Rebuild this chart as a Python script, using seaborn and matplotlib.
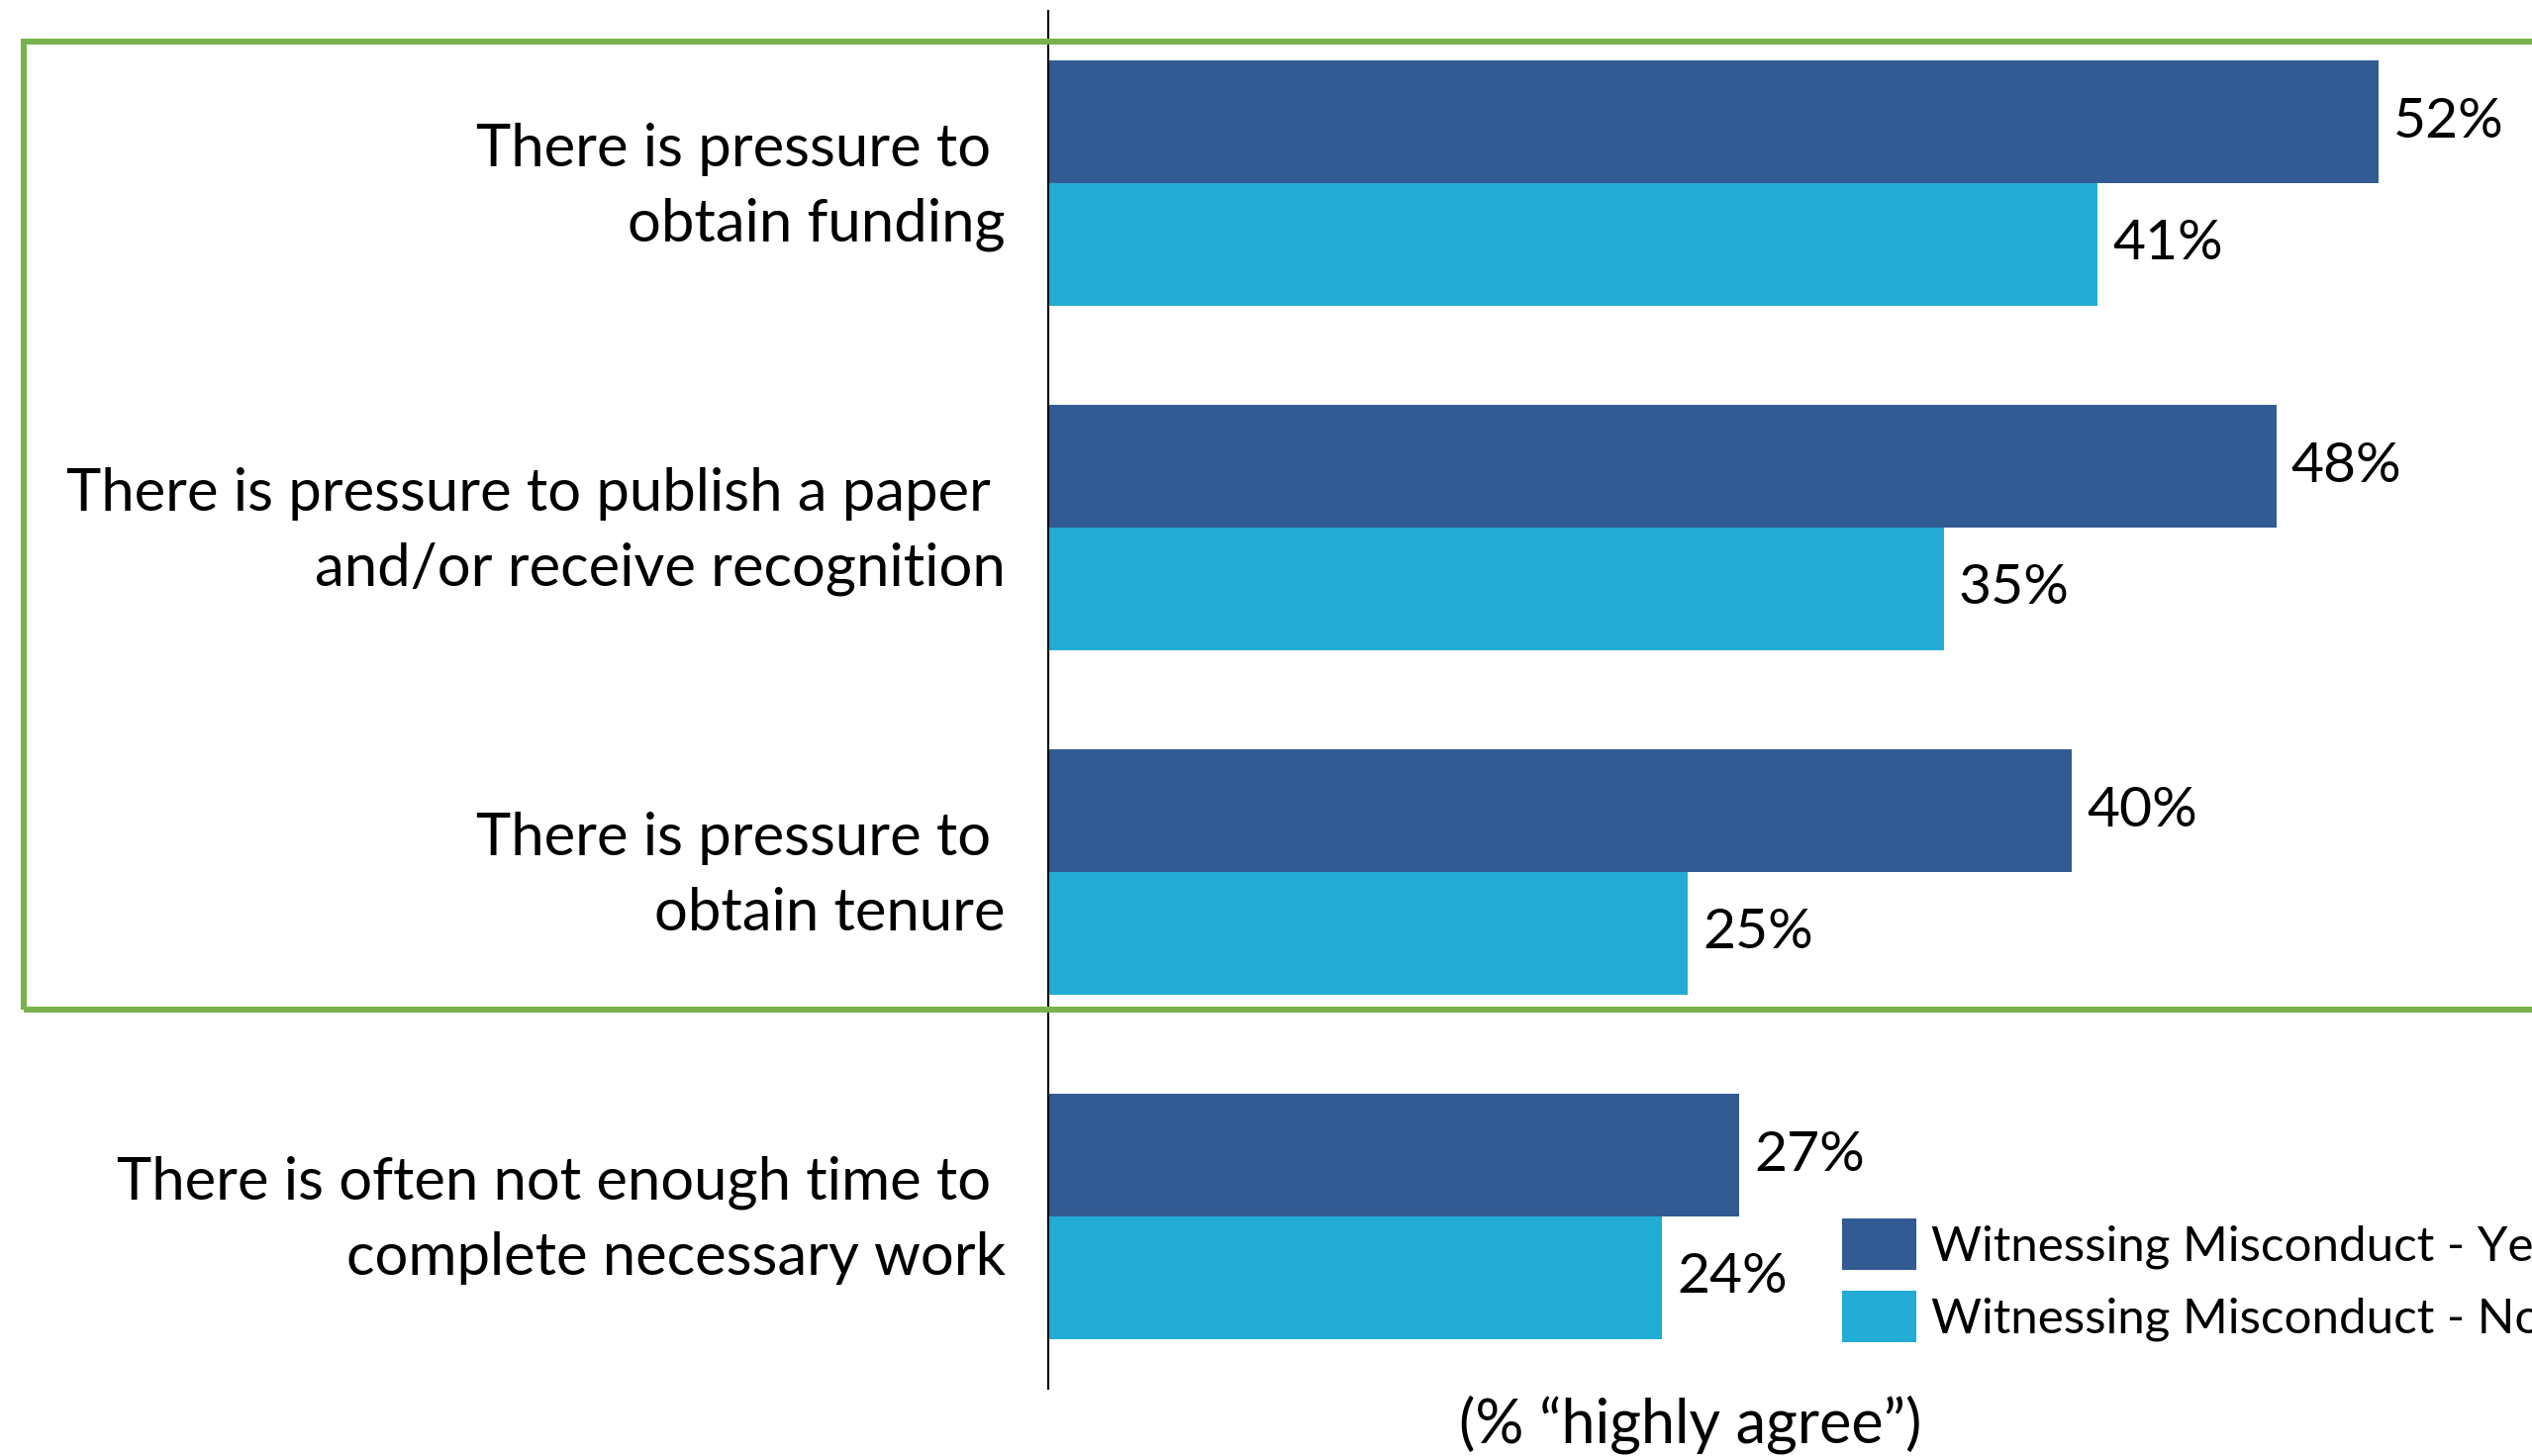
import matplotlib
matplotlib.use("Agg")
import matplotlib.pyplot as plt
import matplotlib.patches as mpatches
import matplotlib.transforms as mtransforms
import seaborn as sns
import pandas as pd

# Survey statements and the share of respondents who "highly agree"
statements = [
    "There is pressure to \nobtain funding",
    "There is pressure to publish a paper \nand/or receive recognition",
    "There is pressure to \nobtain tenure",
    "There is often not enough time to \ncomplete necessary work",
]
groups = ["Witnessing Misconduct - Yes", "Witnessing Misconduct - No"]
pct_yes = [52, 48, 40, 27]
pct_no = [41, 35, 25, 24]
palette = ["#335B93", "#22ACD6"]

df = pd.DataFrame({
    "statement": statements * 2,
    "group": [groups[0]] * len(statements) + [groups[1]] * len(statements),
    "pct": pct_yes + pct_no,
})

sns.set_theme(style="white")
plt.rcParams["font.family"] = ["Lato", "DejaVu Sans"]

W, H = 2558, 1471
fig = plt.figure(figsize=(W / 100, H / 100), dpi=100)
ax = fig.add_axes([1059 / W, 1 - 1403 / H, 1 - 1059 / W, (1403 - 11) / H])

sns.barplot(data=df, y="statement", x="pct", hue="group", hue_order=groups,
            order=statements, palette=palette, width=0.712, gap=0,
            orient="h", linewidth=0, saturation=1, ax=ax, legend=True)

ax.set_xlim(0, 58)
ax.set_xlabel("")
ax.set_ylabel("")
ax.set_xticks([])
ax.tick_params(axis="y", length=0, labelleft=False)

# Category labels, right-aligned left of the axis line
label_shift = mtransforms.ScaledTranslation(-31 / 72, -3.0 / 72, fig.dpi_scale_trans)
for pos, text in zip(ax.get_yticks(), statements):
    ax.text(0, pos, text, transform=ax.get_yaxis_transform() + label_shift,
            ha="right", va="center", multialignment="right",
            fontsize=43, linespacing=1.5, color="black")

for sp in ["top", "right", "bottom"]:
    ax.spines[sp].set_visible(False)
ax.spines["left"].set_color("black")
ax.spines["left"].set_linewidth(1.5)

for cont in ax.containers:
    ax.bar_label(cont, labels=[f"{v:.0f}%" for v in cont.datavalues],
                 padding=11, fontsize=41, color="black")

# Legend without frame, placed lower right
handles, labels = ax.get_legend_handles_labels()
ax.legend(handles, labels, loc="upper left",
          bbox_to_anchor=(1861 / W, 1 - 1231 / H), bbox_transform=fig.transFigure,
          frameon=False, fontsize=35.5, handlelength=1.53, handleheight=1.25,
          handletextpad=0.3, labelspacing=0.42, borderpad=0, borderaxespad=0,
          labelcolor="black")

fig.text(1708 / W, 1 - 1439 / H, "(% \u201chighly agree\u201d)", ha="center",
         va="center", fontsize=44, color="black")

# Green box around the pressure-related statements
box = mpatches.Rectangle((23.5 / W, 1 - 1020 / H), (2650 - 23.5) / W,
                         (1020 - 42) / H, transform=fig.transFigure,
                         fill=False, edgecolor="#77B24C", linewidth=4.3,
                         clip_on=False, zorder=5)
fig.patches.append(box)

fig.savefig("out.png", dpi=100)
